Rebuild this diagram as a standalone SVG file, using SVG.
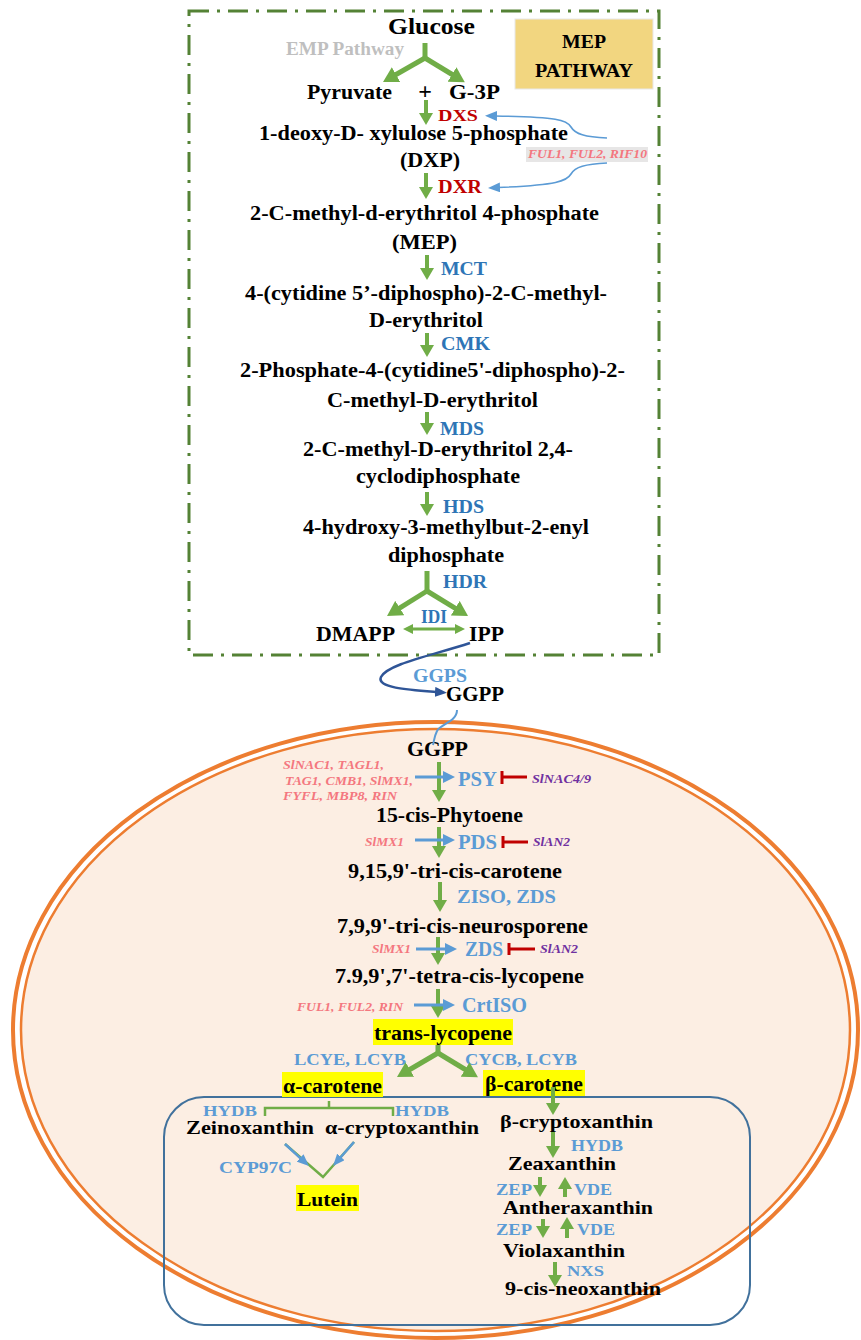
<svg xmlns="http://www.w3.org/2000/svg" width="861" height="1340" viewBox="0 0 861 1340">
<style>
text{font-family:"Liberation Serif","Times New Roman",serif;font-weight:bold}
.k{fill:#000}
.e1{fill:#2E75B6}
.e2{fill:#5B9BD5}
.r{fill:#C00000}
.p{fill:#F4777F;font-style:italic}
.v{fill:#7030A0;font-style:italic}
.gl{stroke:#70AD47;stroke-width:4;fill:none}
.gf{stroke:#70AD47;stroke-width:5;fill:none}
.gt{stroke:#70AD47;stroke-width:2.5;fill:none}
.bl{stroke:#5B9BD5;stroke-width:3;fill:none}
.bt{stroke:#5B9BD5;stroke-width:1.6;fill:none}
.inh{stroke:#C00000;stroke-width:3;fill:none}
.hl{fill:#FFFF00}
</style>
<defs>
<marker id="mg" viewBox="0 0 12 14" markerWidth="12" markerHeight="14" refX="3" refY="7" orient="auto" markerUnits="userSpaceOnUse"><path d="M0,0 L12,7 L0,14 z" fill="#70AD47"/></marker>
<marker id="mgL" viewBox="0 0 15 17" markerWidth="15" markerHeight="17" refX="5" refY="8.5" orient="auto" markerUnits="userSpaceOnUse"><path d="M0,0 L15,8.5 L0,17 z" fill="#70AD47"/></marker>
<marker id="mgS" viewBox="0 0 10 10" markerWidth="10" markerHeight="10" refX="2" refY="5" orient="auto-start-reverse" markerUnits="userSpaceOnUse"><path d="M0,0 L10,5 L0,10 z" fill="#70AD47"/></marker>
<marker id="mb" viewBox="0 0 12 12" markerWidth="12" markerHeight="12" refX="3" refY="6" orient="auto" markerUnits="userSpaceOnUse"><path d="M0,0 L12,6 L0,12 z" fill="#5B9BD5"/></marker>
<marker id="mbs" viewBox="0 0 12 10" markerWidth="12" markerHeight="10" refX="2" refY="5" orient="auto" markerUnits="userSpaceOnUse"><path d="M0,0 L12,5 L0,10 z" fill="#5B9BD5"/></marker>
<marker id="mdb" viewBox="0 0 12 10" markerWidth="12" markerHeight="10" refX="2" refY="5" orient="auto" markerUnits="userSpaceOnUse"><path d="M0,0 L12,5 L0,10 z" fill="#2F5597"/></marker>
</defs>
<rect width="861" height="1340" fill="#fff"/>

<!-- containers -->
<g id="mep-box">
<rect x="189" y="11" width="470" height="644" fill="none" stroke="#548235" stroke-width="3" stroke-dasharray="20 8 3 8"/>
</g>
<g id="plastid">
<ellipse cx="435.5" cy="1030" rx="422.5" ry="308" fill="#fff" stroke="#ED7D31" stroke-width="4"/>
<ellipse cx="435.5" cy="1030" rx="414.5" ry="301" fill="#FCEEE3" stroke="#ED7D31" stroke-width="2.5"/>
</g>
<g id="xanthophyll-box">
<rect x="164" y="1097" width="586" height="228" rx="40" ry="40" fill="none" stroke="#41719C" stroke-width="2"/>
</g>

<g id="mep-title">
<rect x="515" y="19" width="138" height="70" fill="#F2D680" stroke="#E8E8E8" stroke-width="1"/>
<text x="562" y="48" font-size="19" class="k" textLength="44" lengthAdjust="spacingAndGlyphs">MEP</text>
<text x="535" y="77" font-size="19" class="k" textLength="98" lengthAdjust="spacingAndGlyphs">PATHWAY</text>
</g>

<!-- MEP pathway nodes -->
<g id="n-glucose"><text x="388" y="34" font-size="24" class="k" textLength="87" lengthAdjust="spacingAndGlyphs">Glucose</text></g>
<g id="l-emp"><text x="286" y="55" font-size="18" fill="#BFBFBF" textLength="118" lengthAdjust="spacingAndGlyphs">EMP Pathway</text></g>
<g id="n-pyruvate"><text x="307" y="99" font-size="20" class="k" textLength="85" lengthAdjust="spacingAndGlyphs">Pyruvate</text></g>
<g id="n-plus"><text x="425" y="99" font-size="24" class="k" text-anchor="middle">+</text></g>
<g id="n-g3p"><text x="449" y="99" font-size="20" class="k" textLength="51" lengthAdjust="spacingAndGlyphs">G-3P</text></g>
<g id="e-dxs"><text x="438" y="121" font-size="17" class="r" textLength="40" lengthAdjust="spacingAndGlyphs">DXS</text></g>
<g id="n-dxp">
<text x="259" y="140" font-size="20" class="k" textLength="309" lengthAdjust="spacingAndGlyphs">1-deoxy-D- xylulose 5-phosphate</text>
<text x="400" y="167" font-size="20" class="k" textLength="60" lengthAdjust="spacingAndGlyphs">(DXP)</text>
</g>
<g id="e-dxr"><text x="438" y="193" font-size="18" class="r" textLength="44" lengthAdjust="spacingAndGlyphs">DXR</text></g>
<g id="reg-ful">
<rect x="526" y="147" width="122" height="15" fill="#E7E6E6"/>
<text x="528" y="158" font-size="12.5" class="p" textLength="119" lengthAdjust="spacingAndGlyphs">FUL1, FUL2, RIF10</text>
</g>
<g id="n-mep">
<text x="250" y="220" font-size="20" class="k" textLength="349" lengthAdjust="spacingAndGlyphs">2-C-methyl-d-erythritol 4-phosphate</text>
<text x="392" y="249" font-size="20" class="k" textLength="65" lengthAdjust="spacingAndGlyphs">(MEP)</text>
</g>
<g id="e-mct"><text x="441" y="275" font-size="18" class="e1" textLength="46" lengthAdjust="spacingAndGlyphs">MCT</text></g>
<g id="n-cdpme">
<text x="245" y="300" font-size="20" class="k" textLength="362" lengthAdjust="spacingAndGlyphs">4-(cytidine 5’-diphospho)-2-C-methyl-</text>
<text x="369" y="327" font-size="20" class="k" textLength="114" lengthAdjust="spacingAndGlyphs">D-erythritol</text>
</g>
<g id="e-cmk"><text x="441" y="350" font-size="18" class="e1" textLength="49" lengthAdjust="spacingAndGlyphs">CMK</text></g>
<g id="n-cdpmep">
<text x="240" y="377" font-size="20" class="k" textLength="385" lengthAdjust="spacingAndGlyphs">2-Phosphate-4-(cytidine5'-diphospho)-2-</text>
<text x="327" y="407" font-size="20" class="k" textLength="211" lengthAdjust="spacingAndGlyphs">C-methyl-D-erythritol</text>
</g>
<g id="e-mds"><text x="440" y="435" font-size="18" class="e1" textLength="44" lengthAdjust="spacingAndGlyphs">MDS</text></g>
<g id="n-mecpp">
<text x="303" y="456" font-size="20" class="k" textLength="270" lengthAdjust="spacingAndGlyphs">2-C-methyl-D-erythritol 2,4-</text>
<text x="356" y="483" font-size="20" class="k" textLength="164" lengthAdjust="spacingAndGlyphs">cyclodiphosphate</text>
</g>
<g id="e-hds"><text x="443" y="513" font-size="18" class="e1" textLength="41" lengthAdjust="spacingAndGlyphs">HDS</text></g>
<g id="n-hmbpp">
<text x="303" y="534" font-size="20" class="k" textLength="286" lengthAdjust="spacingAndGlyphs">4-hydroxy-3-methylbut-2-enyl</text>
<text x="388" y="562" font-size="20" class="k" textLength="116" lengthAdjust="spacingAndGlyphs">diphosphate</text>
</g>
<g id="e-hdr"><text x="443" y="588" font-size="18" class="e1" textLength="44" lengthAdjust="spacingAndGlyphs">HDR</text></g>
<g id="e-idi"><text x="421" y="623" font-size="18" class="e1" textLength="26" lengthAdjust="spacingAndGlyphs">IDI</text></g>
<g id="n-dmapp"><text x="316" y="641" font-size="20" class="k" textLength="79" lengthAdjust="spacingAndGlyphs">DMAPP</text></g>
<g id="n-ipp"><text x="469" y="641" font-size="20" class="k" textLength="35" lengthAdjust="spacingAndGlyphs">IPP</text></g>
<g id="e-ggps"><text x="413" y="682" font-size="18" class="e2" textLength="54" lengthAdjust="spacingAndGlyphs">GGPS</text></g>
<g id="n-ggpp1"><text x="446" y="701" font-size="20" class="k" textLength="58" lengthAdjust="spacingAndGlyphs">GGPP</text></g>

<!-- Carotenoid pathway nodes -->
<g id="n-ggpp2"><text x="407" y="756" font-size="20" class="k" textLength="61" lengthAdjust="spacingAndGlyphs">GGPP</text></g>
<g id="reg-psy">
<text x="283" y="769" font-size="12.5" class="p" textLength="101" lengthAdjust="spacingAndGlyphs">SlNAC1, TAGL1,</text>
<text x="285" y="785" font-size="12.5" class="p" textLength="128" lengthAdjust="spacingAndGlyphs">TAG1, CMB1, SlMX1,</text>
<text x="283" y="800" font-size="12.5" class="p" textLength="114" lengthAdjust="spacingAndGlyphs">FYFL, MBP8, RIN</text>
</g>
<g id="e-psy"><text x="458" y="786" font-size="20" class="e2" textLength="39" lengthAdjust="spacingAndGlyphs">PSY</text></g>
<g id="inh-psy"><text x="532" y="783" font-size="12.5" class="v" textLength="59" lengthAdjust="spacingAndGlyphs">SlNAC4/9</text></g>
<g id="n-phytoene"><text x="376" y="822" font-size="20" class="k" textLength="147" lengthAdjust="spacingAndGlyphs">15-cis-Phytoene</text></g>
<g id="reg-pds"><text x="365" y="846" font-size="12.5" class="p" textLength="39" lengthAdjust="spacingAndGlyphs">SlMX1</text></g>
<g id="e-pds"><text x="458" y="849" font-size="20" class="e2" textLength="39" lengthAdjust="spacingAndGlyphs">PDS</text></g>
<g id="inh-pds"><text x="533" y="846" font-size="12.5" class="v" textLength="37" lengthAdjust="spacingAndGlyphs">SlAN2</text></g>
<g id="n-tricarotene"><text x="348" y="878" font-size="20" class="k" textLength="214" lengthAdjust="spacingAndGlyphs">9,15,9'-tri-cis-carotene</text></g>
<g id="e-ziso"><text x="457" y="903" font-size="18" class="e2" textLength="99" lengthAdjust="spacingAndGlyphs">ZISO, ZDS</text></g>
<g id="n-neurosporene"><text x="337" y="933" font-size="20" class="k" textLength="251" lengthAdjust="spacingAndGlyphs">7,9,9'-tri-cis-neurosporene</text></g>
<g id="reg-zds"><text x="372" y="953" font-size="12.5" class="p" textLength="39" lengthAdjust="spacingAndGlyphs">SlMX1</text></g>
<g id="e-zds"><text x="465" y="956" font-size="20" class="e2" textLength="38" lengthAdjust="spacingAndGlyphs">ZDS</text></g>
<g id="inh-zds"><text x="540" y="953" font-size="12.5" class="v" textLength="38" lengthAdjust="spacingAndGlyphs">SlAN2</text></g>
<g id="n-tetralycopene"><text x="335" y="983" font-size="20" class="k" textLength="249" lengthAdjust="spacingAndGlyphs">7.9,9',7'-tetra-cis-lycopene</text></g>
<g id="reg-crtiso"><text x="297" y="1011" font-size="12.5" class="p" textLength="106" lengthAdjust="spacingAndGlyphs">FUL1, FUL2, RIN</text></g>
<g id="e-crtiso"><text x="462" y="1012" font-size="20" class="e2" textLength="65" lengthAdjust="spacingAndGlyphs">CrtISO</text></g>
<g id="n-translycopene">
<rect x="373" y="1019" width="140" height="26" class="hl"/>
<text x="374" y="1040" font-size="20" class="k" textLength="138" lengthAdjust="spacingAndGlyphs">trans-lycopene</text>
</g>
<g id="e-lcye"><text x="294" y="1065" font-size="17" class="e2" textLength="112" lengthAdjust="spacingAndGlyphs">LCYE, LCYB</text></g>
<g id="e-cycb"><text x="465" y="1065" font-size="17" class="e2" textLength="112" lengthAdjust="spacingAndGlyphs">CYCB, LCYB</text></g>
<g id="n-acarotene">
<rect x="282" y="1072" width="101" height="25" class="hl"/>
<text x="283" y="1093" font-size="20" class="k" textLength="99" lengthAdjust="spacingAndGlyphs">α-carotene</text>
</g>
<g id="n-bcarotene">
<rect x="483" y="1070" width="102" height="26" class="hl"/>
<text x="485" y="1091" font-size="20" class="k" textLength="98" lengthAdjust="spacingAndGlyphs">β-carotene</text>
</g>
<g id="e-hydb1"><text x="203" y="1116" font-size="15" class="e2" textLength="54" lengthAdjust="spacingAndGlyphs">HYDB</text></g>
<g id="e-hydb2"><text x="395" y="1116" font-size="15" class="e2" textLength="54" lengthAdjust="spacingAndGlyphs">HYDB</text></g>
<g id="n-zeinoxanthin"><text x="186" y="1134" font-size="18" class="k" textLength="128" lengthAdjust="spacingAndGlyphs">Zeinoxanthin</text></g>
<g id="n-acrypto"><text x="325" y="1134" font-size="18" class="k" textLength="154" lengthAdjust="spacingAndGlyphs">α-cryptoxanthin</text></g>
<g id="e-cyp97c"><text x="219" y="1173" font-size="16" class="e2" textLength="73" lengthAdjust="spacingAndGlyphs">CYP97C</text></g>
<g id="n-lutein">
<rect x="296" y="1185" width="63" height="26" class="hl"/>
<text x="297" y="1206" font-size="19" class="k" textLength="61" lengthAdjust="spacingAndGlyphs">Lutein</text>
</g>
<g id="n-bcrypto"><text x="500" y="1128" font-size="19" class="k" textLength="153" lengthAdjust="spacingAndGlyphs">β-cryptoxanthin</text></g>
<g id="e-hydb3"><text x="571" y="1151" font-size="16" class="e2" textLength="52" lengthAdjust="spacingAndGlyphs">HYDB</text></g>
<g id="n-zeaxanthin"><text x="508" y="1170" font-size="19" class="k" textLength="108" lengthAdjust="spacingAndGlyphs">Zeaxanthin</text></g>
<g id="e-zep1"><text x="496" y="1195" font-size="16" class="e2" textLength="36" lengthAdjust="spacingAndGlyphs">ZEP</text></g>
<g id="e-vde1"><text x="574" y="1195" font-size="16" class="e2" textLength="38" lengthAdjust="spacingAndGlyphs">VDE</text></g>
<g id="n-antheraxanthin"><text x="503" y="1214" font-size="19" class="k" textLength="150" lengthAdjust="spacingAndGlyphs">Antheraxanthin</text></g>
<g id="e-zep2"><text x="496" y="1235" font-size="16" class="e2" textLength="36" lengthAdjust="spacingAndGlyphs">ZEP</text></g>
<g id="e-vde2"><text x="577" y="1235" font-size="16" class="e2" textLength="38" lengthAdjust="spacingAndGlyphs">VDE</text></g>
<g id="n-violaxanthin"><text x="503" y="1257" font-size="19" class="k" textLength="122" lengthAdjust="spacingAndGlyphs">Violaxanthin</text></g>
<g id="e-nxs"><text x="567" y="1276" font-size="15" class="e2" textLength="37" lengthAdjust="spacingAndGlyphs">NXS</text></g>
<g id="n-neoxanthin"><text x="505" y="1295" font-size="19" class="k" textLength="156" lengthAdjust="spacingAndGlyphs">9-cis-neoxanthin</text></g>

<!-- connectors -->
<g id="connectors">
<path class="gf" d="M425,43 L425,58"/>
<path class="gf" d="M425,58 L391.7,77" marker-end="url(#mgL)"/>
<path class="gf" d="M425,58 L456.3,77" marker-end="url(#mgL)"/>
<path class="gl" d="M426,100 L426,116" marker-end="url(#mg)"/>
<path class="gl" d="M426,173 L426,190" marker-end="url(#mg)"/>
<path class="bt" d="M607,138 C585,137 575,134 571,127 C567,120 558,117 495,116" marker-end="url(#mbs)"/>
<path class="bt" d="M607,163 C585,164 575,167 571,174 C567,181 558,185 498,187.5" marker-end="url(#mbs)"/>
<path class="gl" d="M427,255 L427,271" marker-end="url(#mg)"/>
<path class="gl" d="M427,333 L427,348" marker-end="url(#mg)"/>
<path class="gl" d="M427,412 L427,426" marker-end="url(#mg)"/>
<path class="gl" d="M427,492 L427,507" marker-end="url(#mg)"/>
<path class="gf" d="M427,571 L427,591"/>
<path class="gf" d="M427,591 L395.5,610.7" marker-end="url(#mgL)"/>
<path class="gf" d="M427,591 L459.5,610.8" marker-end="url(#mgL)"/>
<path stroke="#70AD47" stroke-width="3" fill="none" d="M411,629 L457,629" marker-start="url(#mgS)" marker-end="url(#mgS)"/>
<path stroke="#2F5597" stroke-width="2.5" fill="none" d="M470,643 C430,656 388,664 381,677 C376,688 410,690 437,692" marker-end="url(#mdb)"/>
<path stroke="#5B9BD5" stroke-width="2" fill="none" d="M457,710 C457,722 440,724 437,731 C434,737 434,741 433,745"/>

<path class="gl" d="M439,762 L439,793" marker-end="url(#mg)"/>
<path class="bl" d="M415,777 L446,777" marker-end="url(#mb)"/>
<path class="inh" d="M527,777 L502,777 M502,771 L502,784"/>
<path class="gl" d="M439,827 L439,849" marker-end="url(#mg)"/>
<path class="bl" d="M415,840 L446,840" marker-end="url(#mb)"/>
<path class="inh" d="M528,842 L503,842 M503,836 L503,848"/>
<path class="gl" d="M440,882 L440,903" marker-end="url(#mg)"/>
<path class="gl" d="M438,937 L438,956" marker-end="url(#mg)"/>
<path class="bl" d="M416,949 L448,949" marker-end="url(#mb)"/>
<path class="inh" d="M535,949 L509,949 M509,943 L509,955"/>
<path class="gl" d="M438,989 L438,1009" marker-end="url(#mg)"/>
<path class="bl" d="M414,1005 L446,1005" marker-end="url(#mb)"/>
<path class="gf" d="M438,1045 L438,1053"/>
<path class="gf" d="M438,1053 L405.6,1072" marker-end="url(#mgL)"/>
<path class="gf" d="M438,1053 L469.4,1072" marker-end="url(#mgL)"/>
<path class="gt" d="M265,1116 L265,1108 L393,1108 L393,1116 M329,1108 L329,1101"/>
<path class="gt" d="M285,1144 L323,1177 L354,1142"/>
<path stroke="#5B9BD5" stroke-width="2.5" fill="none" d="M285,1144 L301.6,1159.3" marker-end="url(#mbs)"/>
<path stroke="#5B9BD5" stroke-width="2.5" fill="none" d="M354,1142 L339.6,1158.5" marker-end="url(#mbs)"/>
<path class="gl" d="M553,1087 L553,1106" marker-end="url(#mg)"/>
<path class="gl" d="M553,1132 L553,1149" marker-end="url(#mg)"/>
<path class="gl" d="M540,1177 L540,1188" marker-end="url(#mg)"/>
<path class="gl" d="M565,1197 L565,1186" marker-end="url(#mg)"/>
<path class="gl" d="M543,1219 L543,1229" marker-end="url(#mg)"/>
<path class="gl" d="M567,1238 L567,1226" marker-end="url(#mg)"/>
<path class="gl" d="M555,1262 L555,1278" marker-end="url(#mg)"/>
</g>
</svg>
